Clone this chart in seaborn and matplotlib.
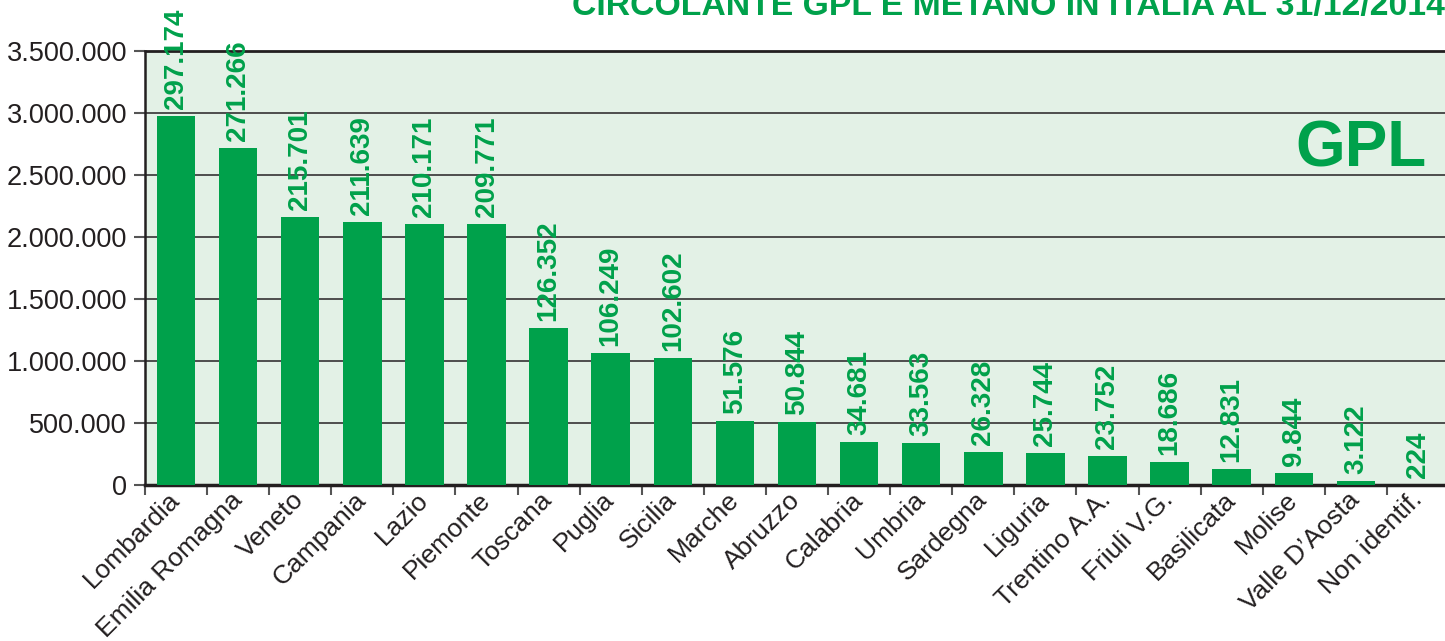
import pandas as pd
import seaborn as sns
import matplotlib.pyplot as plt
from matplotlib.ticker import FuncFormatter, FixedLocator

# Data
regions = ['Lombardia', 'Emilia Romagna', 'Veneto', 'Campania', 'Lazio', 'Piemonte',
           'Toscana', 'Puglia', 'Sicilia', 'Marche', 'Abruzzo', 'Calabria', 'Umbria',
           'Sardegna', 'Liguria', 'Trentino A.A.', 'Friuli V.G.', 'Basilicata',
           'Molise', 'Valle D\u2019Aosta', 'Non identif.']
bar_heights = [2976000, 2718000, 2161000, 2121000, 2105000, 2105000, 1266000, 1065000,
               1024000, 516000, 508000, 347000, 339000, 266000, 258000, 234000, 188000,
               129000, 97000, 32000, 2000]
bar_labels = ['297.174', '271.266', '215.701', '211.639', '210.171', '209.771', '126.352',
              '106.249', '102.602', '51.576', '50.844', '34.681', '33.563', '26.328',
              '25.744', '23.752', '18.686', '12.831', '9.844', '3.122', '224']
yticks = [0, 500000, 1000000, 1500000, 2000000, 2500000, 3000000, 3500000]

df = pd.DataFrame({'Regione': regions, 'Circolante': bar_heights})

green = '#00A14B'
bg = '#E3F1E6'
dark = '#231F20'

sns.set_theme(style='ticks')
plt.rcParams['font.family'] = ['Liberation Sans', 'DejaVu Sans']

fig = plt.figure(figsize=(14.45, 6.41), dpi=100)
ax = fig.add_axes([145 / 1445, 1 - 485 / 641, 1304 / 1445, 434 / 641])
ax.set_facecolor(bg)

sns.barplot(data=df, x='Regione', y='Circolante', color=green, saturation=1,
            width=0.62, linewidth=0, ax=ax, zorder=3)

ax.set_xlim(-0.5, len(regions) - 0.5)
ax.set_ylim(0, 3500000)
ax.set_yticks(yticks)
ax.yaxis.set_major_formatter(FuncFormatter(lambda v, p: f'{int(v):,}'.replace(',', '.')))
ax.grid(axis='y', color='#4d4d4d', linewidth=1.4, zorder=1)
ax.set_axisbelow(True)

# value labels above bars
for i, (h, lab) in enumerate(zip(bar_heights, bar_labels)):
    ax.annotate(lab, (i, h), xytext=(0, 5), textcoords='offset points',
                rotation=90, ha='center', va='bottom', color=green,
                fontsize=20, fontweight='bold', clip_on=False)

# x ticks: labels at centers, marks at boundaries
ax.set_xticks(range(len(regions)))
ax.set_xticklabels(regions, rotation=45, ha='right', va='center',
                   rotation_mode='anchor', fontsize=19, color=dark)
ax.tick_params(axis='x', which='major', length=0, pad=8)
ax.xaxis.set_minor_locator(FixedLocator([i - 0.5 for i in range(len(regions) + 1)]))
ax.tick_params(axis='x', which='minor', length=7, width=1.5, color='#555555')
ax.tick_params(axis='y', labelsize=19.5, labelcolor=dark, length=8, width=1.5,
               color='#555555', pad=5)

ax.set_xlabel('')
ax.set_ylabel('')
for s in ['top', 'right']:
    ax.spines[s].set_visible(False)
ax.spines['left'].set_color(dark)
ax.spines['left'].set_linewidth(1.8)
ax.spines['bottom'].set_color(dark)
ax.spines['bottom'].set_linewidth(2.5)
ax.axhline(3500000, color=dark, linewidth=2, zorder=2, clip_on=False)

ax.text(0.983, 0.735, 'GPL', transform=ax.transAxes, ha='right', va='baseline',
        color=green, fontsize=46, fontweight='bold')

fig.text(1.0, 1 - 15 / 641, 'CIRCOLANTE GPL E METANO IN ITALIA AL 31/12/2014',
         ha='right', va='baseline', color=green, fontsize=24.3, fontweight='bold')

fig.savefig('out.png', dpi=100)
